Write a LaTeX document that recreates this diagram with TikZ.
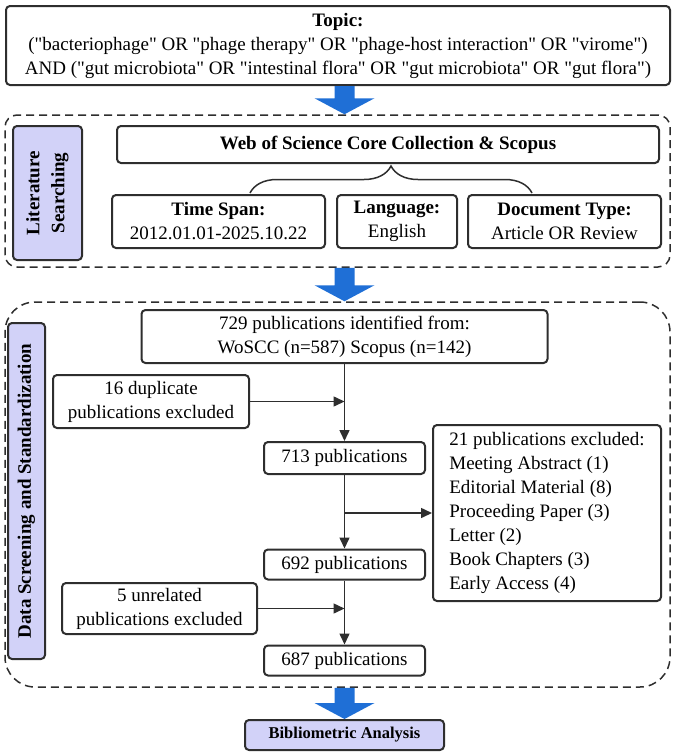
\documentclass[tikz,border=0pt]{standalone}
\usepackage{fontspec}
\setmainfont{Liberation Serif}[Ligatures=TeXOff]
\usetikzlibrary{arrows.meta,positioning,calc,decorations.pathreplacing}

\definecolor{labfill}{HTML}{D2D2F8}
\definecolor{arrowblue}{HTML}{1F6FD6}
\definecolor{linegray}{HTML}{2E2E2E}

\tikzset{
  box/.style={draw=linegray, line width=2pt, rounded corners=4pt, fill=white, align=center, inner sep=0pt, font=\fontsize{19}{24}\selectfont},
  labbox/.style={box, fill=labfill, font=\bfseries\fontsize{19}{25}\selectfont, rotate=90},
  dashframe/.style={draw=linegray, line width=1.5pt, dash pattern=on 8pt off 5pt, rounded corners=12pt},
  flow/.style={draw=linegray, line width=1.5pt, -{Triangle[length=11pt,width=10pt]}},
}

% big blue arrow between two stages
\newcommand{\flowarrow}[2]{%
  \fill[arrowblue] ($(#1)+(-10,0)$) -- ($(#1)+(10,0)$) -- ($(#2)+(10,-16)$) -- ($(#2)+(30,-16)$) -- (#2) -- ($(#2)+(-30,-16)$) -- ($(#2)+(-10,-16)$) -- cycle;}

\begin{document}
\begin{tikzpicture}[x=1pt,y=-1pt]
\useasboundingbox (0,0) rectangle (677,755);

% frames
\node[dashframe, minimum width=665pt, minimum height=152pt] (litframe) at (337.5,191) {};
\node[dashframe, rounded corners=30pt, minimum width=665pt, minimum height=385pt] (dataframe) at (337.5,494.5) {};

% query
\node[box, minimum width=664pt, minimum height=79pt] (topic) at (338,45.5) {\textbf{Topic:}\\("bacteriophage" OR "phage therapy" OR "phage-host interaction" OR "virome")\\AND ("gut microbiota" OR "intestinal flora" OR "gut microbiota" OR "gut flora")};

% literature searching
\node[labbox, minimum width=134pt, minimum height=69pt] (litlab) at (47.5,193) {Literature\\Searching};
\node[box, font=\bfseries\fontsize{19}{24}\selectfont, minimum width=542pt, minimum height=37pt] (wos) at (388,144.5) {Web of Science Core Collection \& Scopus};
\node[box, minimum width=213pt, minimum height=53pt] (span) at (218.5,221.5) {\textbf{Time Span:}\\2012.01.01-2025.10.22};
\node[box, minimum width=120pt, minimum height=53pt] (lang) at (397,221.5) {\textbf{Language:}\\English};
\node[box, minimum width=193pt, minimum height=53pt] (doctype) at (564.5,221.5) {\textbf{Document Type:}\\Article OR Review};

\coordinate (bracel) at (250,193);
\coordinate (bracer) at (532,193);
\draw[linegray, line width=1.5pt, decorate, decoration={brace, amplitude=27pt}] (bracel) -- (bracer);

% screening
\node[labbox, minimum width=336pt, minimum height=37pt] (datalab) at (26.5,491) {Data Screening and Standardization};
\node[box, minimum width=406pt, minimum height=53pt] (ident) at (344.5,336.5) {729 publications identified from:\\WoSCC (n=587) Scopus (n=142)};
\node[box, minimum width=196pt, minimum height=53pt] (dup) at (151,401.5) {16 duplicate\\publications excluded};
\node[box, minimum width=161pt, minimum height=32pt] (p713) at (344.5,458) {713 publications};
\node[box, align=left, minimum width=228pt, minimum height=176pt] (excl) at (547,513) {21 publications excluded:\\Meeting Abstract (1)\\Editorial Material (8)\\Proceeding Paper (3)\\Letter (2)\\Book Chapters (3)\\Early Access (4)};
\node[box, minimum width=161pt, minimum height=30pt] (p692) at (344.5,564.5) {692 publications};
\node[box, minimum width=195pt, minimum height=51pt] (unrel) at (159.5,608.5) {5 unrelated\\publications excluded};
\node[box, minimum width=161pt, minimum height=30pt] (p687) at (344.5,660.5) {687 publications};

\node[box, fill=labfill, font=\bfseries\fontsize{16.5}{20}\selectfont, minimum width=199pt, minimum height=30pt] (bib) at (344.5,735) {Bibliometric Analysis};

\draw[flow] (ident) -- (p713);
\draw[flow] (dup) -- (dup -| ident);
\draw[flow] (p713) -- (p692);
\draw[flow] (excl.west -| p713) -- (excl.west);
\draw[flow] (p692) -- (p687);
\draw[flow] (unrel) -- (unrel -| p692);

\flowarrow{topic.south -| p713}{litframe.north -| p713}
\flowarrow{litframe.south -| p713}{dataframe.north -| p713}
\flowarrow{dataframe.south -| p713}{bib.north -| p713}

\end{tikzpicture}
\end{document}
